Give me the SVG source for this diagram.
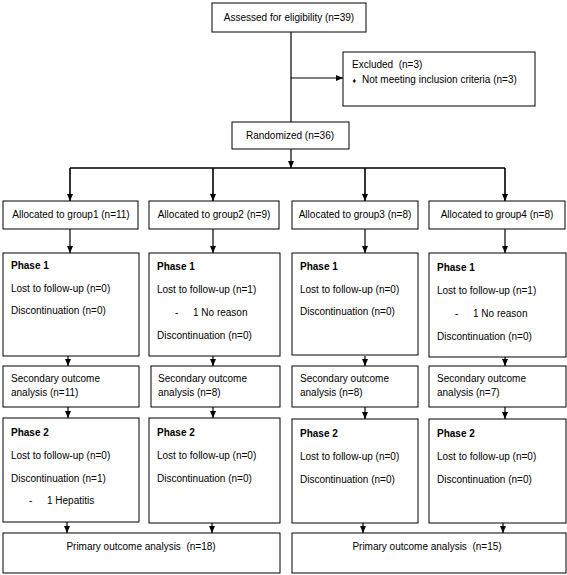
<svg xmlns="http://www.w3.org/2000/svg" width="567" height="575" viewBox="0 0 567 575">
<defs>
<style>
.box{fill:#fff;stroke:#000;stroke-width:1}
.t{font-family:"Liberation Sans",Arial,sans-serif;font-size:10px;fill:#000;white-space:pre}
.c{text-anchor:middle}
.b{font-weight:bold}
.ln{fill:none;stroke:#000;stroke-width:1.2}
.br{fill:none;stroke:#000;stroke-width:1.6}
</style>
<marker id="ah" markerUnits="userSpaceOnUse" markerWidth="7" markerHeight="7" viewBox="0 0 7 7" refX="7" refY="3.5" orient="auto">
<path d="M0,0.5 L7,3.5 L0,6.5 Z" fill="#000"/>
</marker>
</defs>
<rect width="567" height="575" fill="#fff"/>

<g id="connectors">
<line class="ln" x1="291" y1="32" x2="291" y2="122"/>
<line class="ln" x1="291" y1="78" x2="343" y2="78" marker-end="url(#ah)"/>
<line class="ln" x1="291" y1="149" x2="291" y2="168" marker-end="url(#ah)"/>
<line class="br" x1="70" y1="168" x2="505" y2="168"/>
<line class="br" x1="70" y1="168" x2="70" y2="201" marker-end="url(#ah)"/>
<line class="br" x1="213" y1="168" x2="213" y2="201" marker-end="url(#ah)"/>
<line class="br" x1="365" y1="168" x2="365" y2="201" marker-end="url(#ah)"/>
<line class="br" x1="505" y1="168" x2="505" y2="201" marker-end="url(#ah)"/>
<line class="ln" x1="70" y1="229" x2="70" y2="253" marker-end="url(#ah)"/>
<line class="ln" x1="213" y1="229" x2="213" y2="253" marker-end="url(#ah)"/>
<line class="ln" x1="365" y1="229" x2="365" y2="253" marker-end="url(#ah)"/>
<line class="ln" x1="505" y1="229" x2="505" y2="253" marker-end="url(#ah)"/>
<line class="ln" x1="68" y1="356" x2="68" y2="366" marker-end="url(#ah)"/>
<line class="ln" x1="213" y1="356" x2="213" y2="366" marker-end="url(#ah)"/>
<line class="ln" x1="365" y1="356" x2="365" y2="366" marker-end="url(#ah)"/>
<line class="ln" x1="505" y1="357" x2="505" y2="366" marker-end="url(#ah)"/>
<line class="ln" x1="68" y1="407" x2="68" y2="418" marker-end="url(#ah)"/>
<line class="ln" x1="213" y1="407" x2="213" y2="418" marker-end="url(#ah)"/>
<line class="ln" x1="365" y1="407" x2="365" y2="419" marker-end="url(#ah)"/>
<line class="ln" x1="505" y1="407" x2="505" y2="419" marker-end="url(#ah)"/>
<line class="ln" x1="67" y1="522" x2="67" y2="533" marker-end="url(#ah)"/>
<line class="ln" x1="212" y1="523" x2="212" y2="533" marker-end="url(#ah)"/>
<line class="ln" x1="363" y1="523" x2="363" y2="533" marker-end="url(#ah)"/>
<line class="ln" x1="503" y1="523" x2="503" y2="533" marker-end="url(#ah)"/>
</g>

<g id="assessed">
<rect class="box" x="212" y="3" width="154" height="29"/>
<text class="t c" x="289" y="21">Assessed for eligibility (n=39)</text>
</g>
<g id="excluded">
<rect class="box" x="343" y="52" width="192" height="54"/>
<text class="t" x="352" y="68" xml:space="preserve">Excluded  (n=3)</text>
<text class="t" x="352.5" y="83" style="font-size:7px">♦</text>
<text class="t" x="362" y="83">Not meeting inclusion criteria (n=3)</text>
</g>
<g id="randomized">
<rect class="box" x="232" y="122" width="117" height="27"/>
<text class="t c" x="290" y="139">Randomized (n=36)</text>
</g>

<g id="group1">
<rect class="box" x="3" y="201" width="135" height="28"/>
<text class="t c" x="71" y="218">Allocated to group1 (n=11)</text>
</g>
<g id="group2">
<rect class="box" x="149" y="201" width="130" height="28"/>
<text class="t c" x="214" y="218">Allocated to group2 (n=9)</text>
</g>
<g id="group3">
<rect class="box" x="292" y="201" width="126" height="28"/>
<text class="t c" x="355" y="218">Allocated to group3 (n=8)</text>
</g>
<g id="group4">
<rect class="box" x="429" y="201" width="136" height="28"/>
<text class="t c" x="497" y="218">Allocated to group4 (n=8)</text>
</g>

<g id="phase1-g1">
<rect class="box" x="3" y="253" width="136" height="103"/>
<text class="t b" x="11" y="269">Phase 1</text>
<text class="t" x="11" y="292">Lost to follow-up (n=0)</text>
<text class="t" x="11" y="314">Discontinuation (n=0)</text>
</g>
<g id="phase1-g2">
<rect class="box" x="149" y="253" width="131" height="103"/>
<text class="t b" x="157" y="270">Phase 1</text>
<text class="t" x="157" y="293">Lost to follow-up (n=1)</text>
<text class="t" x="175" y="316">-</text>
<text class="t" x="193" y="316">1 No reason</text>
<text class="t" x="157" y="339">Discontinuation (n=0)</text>
</g>
<g id="phase1-g3">
<rect class="box" x="292" y="253" width="126" height="102"/>
<text class="t b" x="300" y="270">Phase 1</text>
<text class="t" x="300" y="293">Lost to follow-up (n=0)</text>
<text class="t" x="300" y="315">Discontinuation (n=0)</text>
</g>
<g id="phase1-g4">
<rect class="box" x="429" y="253" width="137" height="104"/>
<text class="t b" x="437" y="271">Phase 1</text>
<text class="t" x="437" y="294">Lost to follow-up (n=1)</text>
<text class="t" x="455" y="317">-</text>
<text class="t" x="473" y="317">1 No reason</text>
<text class="t" x="437" y="340">Discontinuation (n=0)</text>
</g>

<g id="secondary-g1">
<rect class="box" x="3" y="366" width="136" height="41"/>
<text class="t" x="11" y="382">Secondary outcome</text>
<text class="t" x="11" y="396">analysis (n=11)</text>
</g>
<g id="secondary-g2">
<rect class="box" x="151" y="366" width="129" height="41"/>
<text class="t" x="158" y="382">Secondary outcome</text>
<text class="t" x="158" y="396">analysis (n=8)</text>
</g>
<g id="secondary-g3">
<rect class="box" x="292" y="366" width="126" height="41"/>
<text class="t" x="300" y="382">Secondary outcome</text>
<text class="t" x="300" y="396">analysis (n=8)</text>
</g>
<g id="secondary-g4">
<rect class="box" x="429" y="366" width="137" height="41"/>
<text class="t" x="437" y="382">Secondary outcome</text>
<text class="t" x="437" y="396">analysis (n=7)</text>
</g>

<g id="phase2-g1">
<rect class="box" x="3" y="418" width="136" height="104"/>
<text class="t b" x="11" y="436">Phase 2</text>
<text class="t" x="11" y="459">Lost to follow-up (n=0)</text>
<text class="t" x="11" y="482">Discontinuation (n=1)</text>
<text class="t" x="29" y="504">-</text>
<text class="t" x="47" y="504">1 Hepatitis</text>
</g>
<g id="phase2-g2">
<rect class="box" x="149" y="418" width="131" height="105"/>
<text class="t b" x="157" y="436">Phase 2</text>
<text class="t" x="157" y="459">Lost to follow-up (n=0)</text>
<text class="t" x="157" y="482">Discontinuation (n=0)</text>
</g>
<g id="phase2-g3">
<rect class="box" x="292" y="419" width="126" height="104"/>
<text class="t b" x="300" y="437">Phase 2</text>
<text class="t" x="300" y="460">Lost to follow-up (n=0)</text>
<text class="t" x="300" y="483">Discontinuation (n=0)</text>
</g>
<g id="phase2-g4">
<rect class="box" x="429" y="419" width="137" height="104"/>
<text class="t b" x="437" y="437">Phase 2</text>
<text class="t" x="437" y="460">Lost to follow-up (n=0)</text>
<text class="t" x="437" y="483">Discontinuation (n=0)</text>
</g>

<g id="primary-left">
<rect class="box" x="3" y="533" width="277" height="40"/>
<text class="t c" x="141" y="550" xml:space="preserve">Primary outcome analysis  (n=18)</text>
</g>
<g id="primary-right">
<rect class="box" x="292" y="533" width="274" height="40"/>
<text class="t c" x="427" y="550" xml:space="preserve">Primary outcome analysis  (n=15)</text>
</g>
</svg>
